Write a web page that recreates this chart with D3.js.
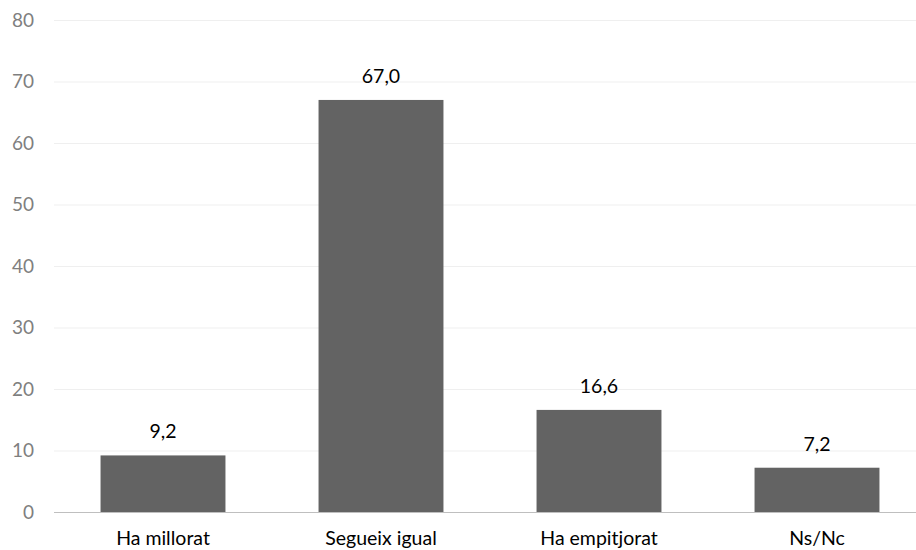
<!DOCTYPE html>
<html><head><meta charset="utf-8">
<script src="https://cdn.jsdelivr.net/npm/d3@7/dist/d3.min.js"></script>
<style>body{margin:0;background:#fff;}svg{display:block;}</style>
</head><body>
<script>
const categories = ["Ha millorat", "Segueix igual", "Ha empitjorat", "Ns/Nc"];
const values = [9.2, 67.0, 16.6, 7.2];
const yTicks = [0, 10, 20, 30, 40, 50, 60, 70, 80];

const W = 916, H = 550;
const font = "Lato, 'Open Sans', sans-serif";
const svg = d3.select("body").append("svg").attr("width", W).attr("height", H);

const x = d3.scaleBand().domain(categories).range([54, 926]).paddingInner(0.427).paddingOuter(0.2135);
const y = d3.scaleLinear().domain([0, 80]).range([512, 20]);

// gridlines
svg.append("g").selectAll("line").data(yTicks.filter(d => d > 0)).join("line")
  .attr("x1", 54).attr("x2", W).attr("y1", d => y(d) + 0.5).attr("y2", d => y(d) + 0.5)
  .attr("stroke", "#efefef").attr("stroke-width", 1);

// y axis labels
const yAxis = d3.axisLeft(y).tickValues(yTicks).tickSize(0).tickPadding(0).tickFormat(d3.format("d"));
const gy = svg.append("g").attr("transform", "translate(34,0)").call(yAxis);
gy.select(".domain").remove();
gy.selectAll("text").attr("font-family", font).attr("font-size", 19).attr("fill", "#7f7f7f");

// bars
svg.append("g").selectAll("rect").data(values).join("rect")
  .attr("x", (d, i) => x(categories[i])).attr("width", x.bandwidth())
  .attr("y", d => y(d)).attr("height", d => y(0) - y(d))
  .attr("fill", "#636363");

// baseline axis
const xAxis = d3.axisBottom(x).tickSize(0).tickPadding(19);
const gx = svg.append("g").attr("transform", `translate(0,${y(0)})`).call(xAxis);
gx.select(".domain").remove();
gx.selectAll("text").attr("font-family", font).attr("font-size", 19.5).attr("fill", "#000");
svg.append("line").attr("x1", 54).attr("x2", W).attr("y1", y(0) + 0.5).attr("y2", y(0) + 0.5)
  .attr("stroke", "#bfbfbf").attr("stroke-width", 1);

// value labels
svg.append("g").selectAll("text").data(values).join("text")
  .attr("x", (d, i) => x(categories[i]) + x.bandwidth() / 2)
  .attr("y", d => y(d) - 17)
  .attr("text-anchor", "middle")
  .attr("font-family", font).attr("font-size", 19.5).attr("fill", "#000")
  .text(d => d3.format(".1f")(d).replace(".", ","));
</script>
</body></html>
